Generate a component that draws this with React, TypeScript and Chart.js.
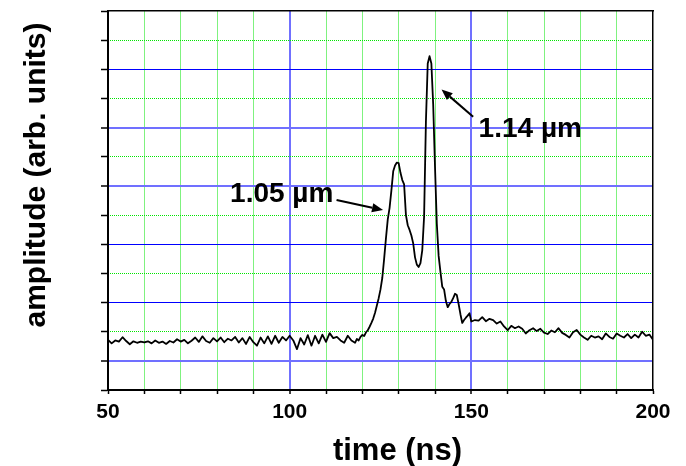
import React, { useEffect, useRef } from 'react';
import { Chart, registerables } from 'chart.js';

Chart.register(...registerables);

// ---- data (time in ns, amplitude in arb. units) ----
const preStart = 50; // 1 ns sampling, 50..117 ns
const preAmplitude = [
  1.72, 1.6, 1.7, 1.66, 1.81, 1.68, 1.57, 1.67, 1.62, 1.66,
  1.63, 1.67, 1.6, 1.7, 1.62, 1.66, 1.58, 1.68, 1.63, 1.74,
  1.66, 1.72, 1.6, 1.69, 1.8, 1.65, 1.84, 1.68, 1.62, 1.78,
  1.67, 1.8, 1.64, 1.76, 1.7, 1.82, 1.63, 1.78, 1.58, 1.82,
  1.64, 1.52, 1.8, 1.6, 1.84, 1.58, 1.86, 1.62, 1.82, 1.7,
  1.86, 1.7, 1.4, 1.78, 1.56, 1.88, 1.52, 1.86, 1.6, 1.9,
  1.65, 1.95, 1.78, 1.82, 1.7, 1.62, 1.86, 1.7,
];
const peakStart = 118; // 0.5 ns sampling, 118..150 ns
const peakAmplitude = [
  1.62, 1.75, 1.7, 1.82, 1.89, 1.85, 1.98, 2.05, 2.17, 2.3,
  2.45, 2.65, 2.9, 3.15, 3.45, 3.85, 4.5, 5.2, 5.85, 6.25,
  6.85, 7.5, 7.7, 7.8, 7.78, 7.45, 7.2, 7.05, 6.0, 5.65,
  5.49, 5.3, 5.03, 4.55, 4.3, 4.22, 4.35, 4.8, 5.95, 9.2,
  11.2, 11.45, 11.2, 9.8, 7.66, 5.7, 4.6, 4.05, 3.54, 3.45,
  3.05, 2.84, 2.95, 3.02, 3.15, 3.3, 3.26, 2.95, 2.6, 2.3,
  2.4, 2.48, 2.55, 2.63, 2.35,
];
const tailStart = 151; // 1 ns sampling, 151..200 ns
const tailAmplitude = [
  2.4, 2.38, 2.5, 2.36, 2.44, 2.4, 2.28, 2.35, 2.18, 2.05,
  2.2, 2.12, 2.18, 2.1, 1.94, 2.05, 2.12, 2.02, 2.1, 1.97,
  1.92, 2.04, 1.98, 2.12, 1.96, 1.89, 1.8, 1.98, 2.06, 1.9,
  1.8, 1.72, 1.86, 1.8, 1.84, 1.74, 1.94, 1.82, 1.76, 1.94,
  1.86, 1.8, 1.92, 1.78, 1.9, 1.8, 2.0, 1.86, 1.9, 1.72,
];

const xTickLabels = [50, 100, 150, 200];
const xMajorLines = [100, 150];
const xMinorLines = [60, 70, 80, 90, 110, 120, 130, 140, 160, 170, 180, 190];
const yMajorLines = [1, 3, 5, 7, 9, 11];
const yMinorLines = [2, 4, 6, 8, 10, 12];
const ySoftLines = [1, 7, 9]; // major lines rendered wider & lighter in the original

const xTitle = 'time (ns)';
const yTitle = 'amplitude (arb. units)';

const annotations = [
  { text: '1.05 µm', tx: 83.6, ty: 6.46, from: [112.9, 6.52], to: [125.7, 6.17] },
  { text: '1.14 µm', tx: 152.0, ty: 8.67, from: [150.5, 9.37], to: [141.8, 10.31] },
];

const FONT = '"Liberation Sans", Arial, Helvetica, sans-serif';
const BLUE = '#0000ff';
const SOFT_BLUE = '#7070ff';
const GREEN = '#00e600';
const CLEAR = 'rgba(0,0,0,0)';

const points = [
  ...preAmplitude.map((v, i) => ({ x: preStart + i, y: v })),
  ...peakAmplitude.map((v, i) => ({ x: peakStart + i * 0.5, y: v })),
  ...tailAmplitude.map((v, i) => ({ x: tailStart + i, y: v })),
];

const overlay = {
  id: 'overlay',
  afterDatasetsDraw(chart: any) {
    const { ctx } = chart;
    const x = chart.scales.x;
    const y = chart.scales.y;
    ctx.save();
    ctx.fillStyle = '#000';
    ctx.strokeStyle = '#000';
    for (const a of annotations) {
      ctx.font = `bold 28px ${FONT}`;
      ctx.textAlign = 'left';
      ctx.textBaseline = 'alphabetic';
      ctx.fillText(a.text, x.getPixelForValue(a.tx), y.getPixelForValue(a.ty));
      const x1 = x.getPixelForValue(a.from[0]);
      const y1 = y.getPixelForValue(a.from[1]);
      const x2 = x.getPixelForValue(a.to[0]);
      const y2 = y.getPixelForValue(a.to[1]);
      const ang = Math.atan2(y2 - y1, x2 - x1);
      const hl = 11;
      const hw = 4.5;
      const bx = x2 - hl * Math.cos(ang);
      const by = y2 - hl * Math.sin(ang);
      ctx.lineWidth = 2;
      ctx.beginPath();
      ctx.moveTo(x1, y1);
      ctx.lineTo(bx, by);
      ctx.stroke();
      ctx.beginPath();
      ctx.moveTo(x2, y2);
      ctx.lineTo(bx - hw * Math.sin(ang), by + hw * Math.cos(ang));
      ctx.lineTo(bx + hw * Math.sin(ang), by - hw * Math.cos(ang));
      ctx.closePath();
      ctx.fill();
    }
    // axis titles
    ctx.font = `bold 31px ${FONT}`;
    ctx.textAlign = 'center';
    ctx.textBaseline = 'alphabetic';
    ctx.fillText(xTitle, 397.5, 460);
    ctx.save();
    ctx.translate(45, 175);
    ctx.rotate(-Math.PI / 2);
    ctx.font = `bold 30px ${FONT}`;
    ctx.fillText(yTitle, 0, 0);
    ctx.restore();
    ctx.restore();
  },
};

export default function App() {
  const ref = useRef<HTMLCanvasElement>(null);
  useEffect(() => {
    if (!ref.current) return;
    const chart = new Chart(ref.current, {
      type: 'scatter',
      data: {
        datasets: [
          {
            data: points,
            showLine: true,
            borderColor: '#000',
            borderWidth: 1.8,
            borderJoinStyle: 'round',
            pointRadius: 0,
            tension: 0,
          },
        ],
      },
      options: {
        animation: false,
        responsive: true,
        maintainAspectRatio: false,
        layout: { padding: { top: 11, right: 33, left: 0, bottom: 0 } },
        plugins: { legend: { display: false }, tooltip: { enabled: false } },
        scales: {
          x: {
            type: 'linear',
            position: 'bottom',
            min: 50,
            max: 200,
            afterFit: (s: any) => {
              s.height = 76;
            },
            ticks: {
              stepSize: 10,
              autoSkip: false,
              maxRotation: 0,
              minRotation: 0,
              padding: 6,
              color: '#000',
              font: { family: FONT, size: 21, weight: 'bold' },
              callback: (v: any) => (xTickLabels.includes(Number(v)) ? String(v) : ''),
            },
            grid: {
              color: (c: any) => (c.tick && xMajorLines.includes(c.tick.value) ? SOFT_BLUE : CLEAR),
              lineWidth: (c: any) => (c.tick && xMajorLines.includes(c.tick.value) ? 2 : 1),
              drawTicks: true,
              tickLength: 4,
              tickColor: '#000',
              tickWidth: 1.5,
            },
            border: { display: true, color: '#000', width: 2 },
          },
          x2: {
            type: 'linear',
            position: 'top',
            min: 50,
            max: 200,
            afterFit: (s: any) => {
              s.height = 0;
            },
            ticks: { stepSize: 10, display: false },
            grid: {
              color: (c: any) => (c.tick && xMinorLines.includes(c.tick.value) ? GREEN : CLEAR),
              lineWidth: 1,
              drawTicks: false,
            },
            border: { display: true, color: '#000', width: 1.5, dash: [1, 1] },
          },
          y: {
            type: 'linear',
            position: 'left',
            min: 0,
            max: 13,
            afterFit: (s: any) => {
              s.width = 108;
            },
            ticks: { stepSize: 1, display: false },
            grid: {
              color: (c: any) => {
                const v = c.tick ? c.tick.value : -1;
                if (!yMajorLines.includes(v)) return CLEAR;
                return ySoftLines.includes(v) ? SOFT_BLUE : BLUE;
              },
              lineWidth: (c: any) => (c.tick && ySoftLines.includes(c.tick.value) ? 2 : 1),
              drawTicks: true,
              tickLength: 7,
              tickColor: '#000',
              tickWidth: 1.5,
            },
            border: { display: true, color: '#000', width: 2 },
          },
          y2: {
            type: 'linear',
            position: 'right',
            min: 0,
            max: 13,
            afterFit: (s: any) => {
              s.width = 0;
            },
            ticks: { stepSize: 1, display: false },
            grid: {
              color: (c: any) => (c.tick && yMinorLines.includes(c.tick.value) ? GREEN : CLEAR),
              lineWidth: 1,
              drawTicks: false,
            },
            border: { display: true, color: '#000', width: 1.5, dash: [1, 1] },
          },
        },
      },
      plugins: [overlay],
    } as any);
    return () => chart.destroy();
  }, []);
  return (
    <div style={{ position: 'absolute', left: 0, top: 0, width: 686, height: 466, background: '#fff' }}>
      <canvas ref={ref} />
    </div>
  );
}
